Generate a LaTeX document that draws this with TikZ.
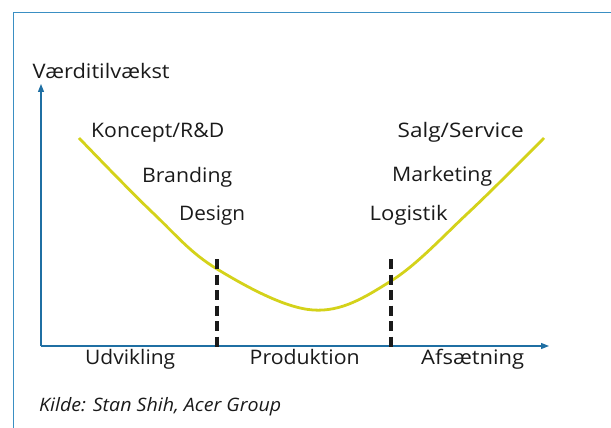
\documentclass[tikz,border=0pt]{standalone}
\usepackage{fontspec}
\usepackage{graphicx}
\setmainfont{Open Sans}
\usetikzlibrary{arrows.meta}
\definecolor{framebl}{HTML}{3A8FC3}
\definecolor{axisbl}{HTML}{1F6FA3}
\definecolor{curvey}{HTML}{D4D21A}
\definecolor{txt}{HTML}{1A1A1A}
\newcommand{\fitw}[2]{\resizebox{#1}{\height}{#2}}
\tikzset{
  lbl/.style={anchor=base west, inner sep=0pt, text=txt, font=\fontsize{20}{24}\selectfont},
  src/.style={anchor=base west, inner sep=0pt, text=txt, font=\itshape\fontsize{18.5}{22}\selectfont},
  axisline/.style={draw=axisbl, line width=1.3pt, -{Triangle[length=8pt,width=6pt]}},
  divider/.style={draw=txt, line width=3.2pt, dash pattern=on 10pt off 5.5pt},
  curveline/.style={draw=curvey, line width=2.8pt}
}
\begin{document}
\begin{tikzpicture}[x=1pt,y=-1pt]
\useasboundingbox (0,0) rectangle (611,428);
% frame
\coordinate (fbl) at (13.5,428);
\coordinate (ftl) at (13.5,12.5);
\coordinate (ftr) at (611,12.5);
\draw[framebl, line width=1.4pt] (fbl) -- (ftl) -- (ftr);
% axes
\coordinate (origin) at (41,346);
\coordinate (ytip) at (41,84);
\coordinate (xtip) at (549,346);
\draw[axisline] (origin) -- (ytip);
\draw[axisline] (origin) -- (xtip);
% curve
\draw[curveline] plot[smooth, tension=0.6] coordinates {(79,138) (153,213) (217,269) (313,310) (391,281) (468,213) (544,138)};
% dividers
\coordinate (d1t) at (217,259);
\coordinate (d1b) at (217,347);
\coordinate (d2t) at (391,259);
\coordinate (d2b) at (391,347);
\draw[divider] (d1t) -- (d1b);
\draw[divider] (d2t) -- (d2b);
% labels
\node[lbl] (yl) at (32.5,79) {\fitw{137pt}{Værditilvækst}};
\node[lbl] (k) at (91,138) {\fitw{133pt}{Koncept/R\&D}};
\node[lbl] (b) at (142,182.5) {\fitw{90pt}{Branding}};
\node[lbl] (d) at (179,220) {\fitw{66pt}{Design}};
\node[lbl] (s) at (397.5,138) {\fitw{126pt}{Salg/Service}};
\node[lbl] (m) at (392,181.5) {\fitw{100pt}{Marketing}};
\node[lbl] (l) at (369.5,220) {\fitw{78pt}{Logistik}};
\node[lbl] (u) at (85,364.5) {\fitw{90pt}{Udvikling}};
\node[lbl] (p) at (249.5,364.5) {\fitw{110pt}{Produktion}};
\node[lbl] (a) at (421,364.5) {\fitw{103pt}{Afsætning}};
\node[src] (kilde) at (39,411) {\fitw{242pt}{Kilde: Stan Shih, Acer Group}};
\end{tikzpicture}
\end{document}
